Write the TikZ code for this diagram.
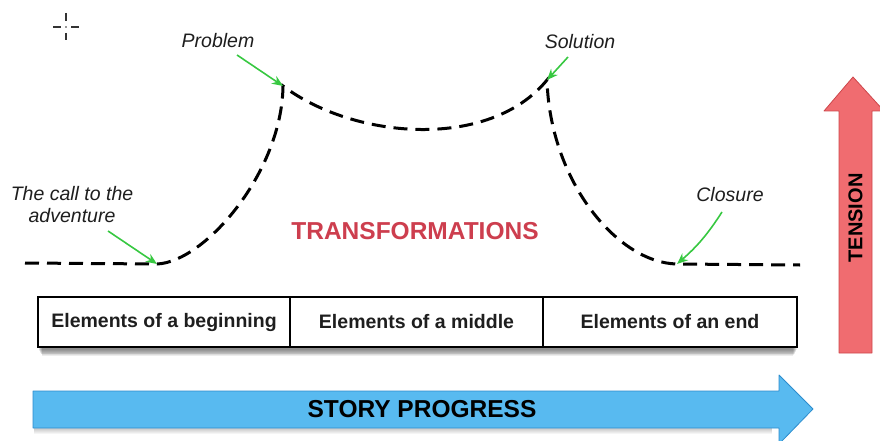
\documentclass[tikz,border=0pt]{standalone}
\usepackage{fontspec}
\setmainfont{Liberation Sans}
\usetikzlibrary{arrows.meta}
\definecolor{curvegreen}{RGB}{55,200,65}
\definecolor{transred}{RGB}{205,62,78}
\definecolor{bluefill}{RGB}{88,186,240}
\definecolor{blueedge}{RGB}{45,140,205}
\definecolor{redfill}{RGB}{240,108,112}
\definecolor{rededge}{RGB}{205,70,75}
\definecolor{inkgray}{RGB}{30,30,30}
\tikzset{
  storycurve/.style={line width=3pt, dash pattern=on 14pt off 8pt, black},
  pointer/.style={draw=curvegreen, line width=1.6pt, -{Stealth[length=11pt,width=9pt]}},
  italabel/.style={font=\fontsize{19.5}{22}\selectfont\itshape, text=inkgray, align=center, inner sep=0pt},
  partbox/.style={draw=black, line width=1.2pt, fill=white, minimum height=50pt, inner sep=0pt,
     font=\fontsize{19.5}{22}\selectfont\bfseries, text=inkgray},
  bigword/.style={font=\fontsize{24.5}{28}\selectfont\bfseries, inner sep=0pt},
}
\begin{document}
\begin{tikzpicture}[x=1pt,y=-1pt]
\useasboundingbox (0,0) rectangle (880,441);
\clip (0,0) rectangle (880,441);
% crosshair
\draw[line width=1.2pt, black!80] (53,27) -- (61,27) (71,27) -- (79,27) (66,13) -- (66,21) (66,33) -- (66,40);
\fill[black!80] (66,27) circle (0.9pt);
% curve points
\coordinate (start) at (25,263);
\coordinate (call) at (157,264);
\coordinate (problem) at (283,86);
\coordinate (solution) at (547,80);
\coordinate (closure) at (677,264);
\coordinate (finish) at (800,265);
\draw[storycurve] (start) -- (call) .. controls (205,262) and (282,172) .. (problem)
  .. controls (355,140) and (490,150) .. (solution)
  .. controls (550,182) and (618,263) .. (closure) -- (finish);
% labels
\node[italabel] (lproblem) at (218,41) {Problem};
\node[italabel] (lsolution) at (580,42) {Solution};
\node[italabel] (lcall) at (72,205) {The call to the\\adventure};
\node[italabel] (lclosure) at (730,195) {Closure};
\coordinate (tproblem) at (237,55);
\coordinate (tsolution) at (568,57);
\coordinate (tcall) at (108,231);
\coordinate (tclosure) at (722,212);
\draw[pointer] (tproblem) -- (problem);
\draw[pointer] (tsolution) -- (solution);
\draw[pointer] (tcall) -- (call);
\draw[pointer] (tclosure) to[bend left=8] (closure);
\node[bigword, text=transred] (trans) at (415,231) {TRANSFORMATIONS};
% boxes shadow
\foreach \i in {1,...,8}{
  \fill[black, opacity=0.07] (38+\i*0.5,303+\i*0.4) rectangle (797-\i*0.5,349+\i*0.9);
}
\node[partbox, minimum width=252pt] (b1) at (164,322) {Elements of a beginning};
\node[partbox, minimum width=253pt] (b2) at (416.5,322) {Elements of a middle};
\node[partbox, minimum width=254pt] (b3) at (670,322) {Elements of an end};
% story progress arrow
\foreach \i in {1,...,5}{
  \fill[black, opacity=0.04] (34,394+\i) rectangle (772,429+\i);
}
\draw[fill=bluefill, draw=blueedge, line width=0.8pt, line join=round]
  (33,391) -- (779,391) -- (779,375) -- (813,409) -- (779,444) -- (779,428) -- (33,428) -- cycle;
\node[bigword, text=black] (story) at (422,409) {STORY PROGRESS};
% tension arrow
\draw[fill=redfill, draw=rededge, line width=0.8pt, line join=round]
  (839,353) -- (839,111) -- (824,111) -- (853,77) -- (884,111) -- (872,111) -- (872,353) -- cycle;
\node[bigword, text=black, font=\fontsize{20}{22}\selectfont\bfseries, rotate=90] (tension) at (855.5,218) {TENSION};
\end{tikzpicture}
\end{document}
